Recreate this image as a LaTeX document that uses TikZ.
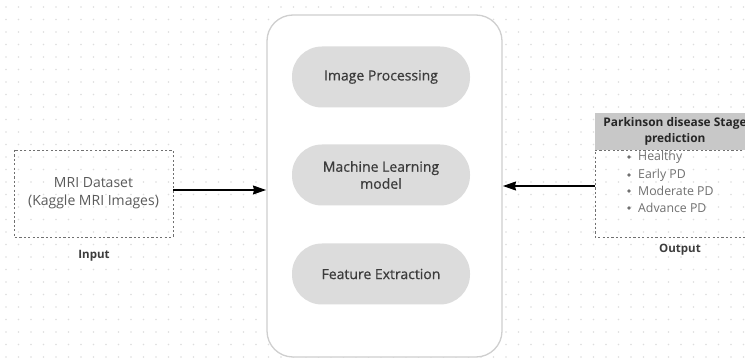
\documentclass[tikz,border=0pt]{standalone}
\usepackage{fontspec}
\setmainfont{Open Sans}
\usetikzlibrary{arrows.meta}
\definecolor{pillgray}{HTML}{DCDCDC}
\definecolor{framegray}{HTML}{CFCFCF}
\definecolor{headgray}{HTML}{C8C8C8}
\definecolor{txtdark}{HTML}{3C3C3C}
\definecolor{txtmid}{HTML}{5A5A5A}
\definecolor{txtlight}{HTML}{707070}
\definecolor{dotgray}{HTML}{DEDEDE}
\tikzset{
  pill/.style={rounded corners=30pt, fill=pillgray, draw=none, minimum width=178pt,
    minimum height=61pt, align=center, text=txtdark,
    font=\fontsize{14}{17}\selectfont\addfontfeature{FakeBold=0.6}},
  dashbox/.style={draw=txtlight, dashed, dash pattern=on 2.2pt off 2.2pt, line width=0.8pt},
  caption/.style={font=\bfseries\fontsize{11.5}{13}\selectfont, text=txtdark},
  flow/.style={-{Stealth[length=13pt,width=9pt,inset=1pt]}, line width=1.1pt, black},
  bullet/.style={anchor=west, inner sep=0pt, text=txtlight, font=\fontsize{12.3}{14}\selectfont}
}
\begin{document}
\begin{tikzpicture}[x=1pt,y=-1pt]
\useasboundingbox (0,0) rectangle (745,358);
\fill[white] (0,0) rectangle (745,358);
% dotted canvas
\foreach \i in {0,...,59}{
  \foreach \j in {0,...,28}{
    \fill[dotgray] (6+\i*12.5, 7+\j*12.5) circle (0.85pt);
  }
}
% central frame
\draw[framegray, line width=1.3pt, fill=white, rounded corners=26pt] (267,15) rectangle (502,357);
\coordinate (frameW) at (266,190);
\coordinate (frameE) at (503,186);
% process stages
\node[pill] (imgproc) at (381,77) {Image Processing};
\node[pill] (mlmodel) at (381,175) {Machine Learning\\model};
\node[pill] (featex) at (381,274) {Feature Extraction};
% input
\draw[dashbox] (14,150) rectangle (173,237);
\node[text=txtmid, align=center, font=\fontsize{14}{18}\selectfont] (mri) at (93.5,193) {MRI Dataset\\(Kaggle MRI Images)};
\coordinate (mriE) at (173,190);
\node[caption] (inlbl) at (94,256) {Input};
% output
\fill[headgray] (595,113) rectangle (760,150);
\node[font=\bfseries\fontsize{11.9}{16}\selectfont, text=black!85, align=center] (head) at (675,131.5) {Parkinson disease Stage\\prediction};
\draw[dashbox] (760,150) -- (595,150) -- (595,237) -- (760,237);
\coordinate (outW) at (595,186);
\foreach \t/\yy in {Healthy/157, Early PD/175, Moderate PD/191, Advance PD/208}{
  \fill[txtlight] (629,\yy) circle (1.8pt);
  \node[bullet] at (638,\yy) {\t};
}
\node[caption] (outlbl) at (680,250) {Output};
% connectors
\draw[flow] (mriE) -- (frameW);
\draw[flow] (outW) -- (frameE);
\end{tikzpicture}
\end{document}
